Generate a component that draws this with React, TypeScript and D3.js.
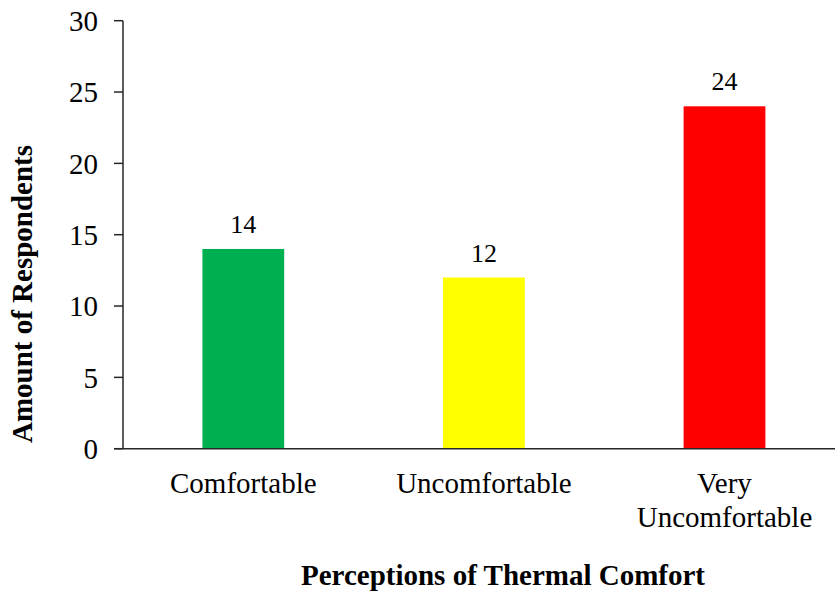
import React from "react";
import * as d3 from "d3";

const categories = ["Comfortable", "Uncomfortable", "Very Uncomfortable"];
const categoryLines = [["Comfortable"], ["Uncomfortable"], ["Very", "Uncomfortable"]];
const values = [14, 12, 24];
const barColors = ["#00B050", "#FFFF00", "#FF0000"];
const yTicks = [0, 5, 10, 15, 20, 25, 30];
const yTitle = "Amount of Respondents";
const xTitle = "Perceptions of Thermal Comfort";

const W = 835;
const H = 592;
const FONT = "'Liberation Serif', 'Times New Roman', serif";
const FS = 29;

export default function App() {
  const y = d3.scaleLinear().domain([0, 30]).range([448.7, 20.7]);
  const x = d3
    .scaleBand<string>()
    .domain(categories)
    .range([123, 844.8])
    .paddingInner(0.66)
    .paddingOuter(0.33);
  const axisColor = "#262626";
  const x0 = 123;
  return (
    <div style={{ position: "absolute", left: 0, top: 0 }}>
      <svg width={W} height={H} style={{ display: "block", background: "#fff" }}>
        {categories.map((c, i) => (
          <rect
            key={c}
            x={x(c)}
            y={y(values[i])}
            width={x.bandwidth()}
            height={y(0) - y(values[i])}
            fill={barColors[i]}
          />
        ))}
        {/* y axis */}
        <line x1={x0} x2={x0} y1={y(30)} y2={y(0)} stroke={axisColor} strokeWidth={1.5} />
        {yTicks.map((t) => (
          <g key={t}>
            <line x1={x0 - 9} x2={x0} y1={y(t)} y2={y(t)} stroke={axisColor} strokeWidth={1.5} />
            <text
              x={x0 - 25}
              y={y(t)}
              dy="0.35em"
              textAnchor="end"
              fontFamily={FONT}
              fontSize={FS}
              fill="#000"
            >
              {t}
            </text>
          </g>
        ))}
        {/* x axis */}
        <line x1={x0 - 9} x2={W} y1={y(0)} y2={y(0)} stroke={axisColor} strokeWidth={1.5} />
        {categories.map((c, i) => (
          <text
            key={c}
            x={(x(c) as number) + x.bandwidth() / 2}
            y={493}
            textAnchor="middle"
            fontFamily={FONT}
            fontSize={FS}
            fill="#000"
          >
            {categoryLines[i].map((ln, j) => (
              <tspan key={j} x={(x(c) as number) + x.bandwidth() / 2} dy={j === 0 ? 0 : 34}>
                {ln}
              </tspan>
            ))}
          </text>
        ))}
        {/* data labels */}
        {categories.map((c, i) => (
          <text
            key={c}
            x={(x(c) as number) + x.bandwidth() / 2}
            y={y(values[i]) - 16}
            textAnchor="middle"
            fontFamily={FONT}
            fontSize={FS - 3}
            fill="#000"
          >
            {values[i]}
          </text>
        ))}
        {/* titles */}
        <text
          transform={`translate(32, 294) rotate(-90)`}
          textAnchor="middle"
          fontFamily={FONT}
          fontSize={FS}
          fontWeight="bold"
          fill="#000"
        >
          {yTitle}
        </text>
        <text
          x={503}
          y={585}
          textAnchor="middle"
          fontFamily={FONT}
          fontSize={FS}
          fontWeight="bold"
          fill="#000"
        >
          {xTitle}
        </text>
      </svg>
    </div>
  );
}
